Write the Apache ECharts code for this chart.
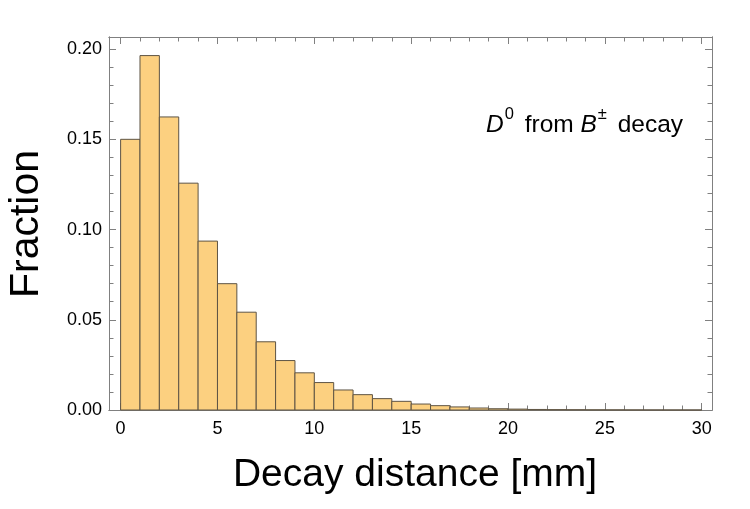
<!DOCTYPE html>
<html>
<head>
<meta charset="utf-8">
<script src="https://cdn.jsdelivr.net/npm/echarts@6/dist/echarts.min.js"></script>
<style>html,body{margin:0;padding:0;background:#fff}#c{width:750px;height:509px}</style>
</head>
<body>
<div id="c"></div>
<script>
// Histogram bins (mm) and fractions
var binStarts = [0,1,2,3,4,5,6,7,8,9,10,11,12,13,14,15,16,17,18,19,20,21,22,23,24,25,26,27,28,29];
var binWidth = 1;
var fractions = [0.1500,0.1964,0.1624,0.1257,0.0936,0.0700,0.0542,0.0378,0.0274,0.0206,
                 0.0152,0.0111,0.0085,0.0063,0.0048,0.0033,0.0024,0.0017,0.0011,0.0007,
                 0.0005,0.0003,0.0002,0.00015,0.0001,0.00007,0.00005,0.00003,0.00002,0.00001];
var xMajorTicks = [0,5,10,15,20,25,30];
var xMinorTicks = [0,1,2,3,4,5,6,7,8,9,10,11,12,13,14,15,16,17,18,19,20,21,22,23,24,25,26,27,28,29,30];
var yMajorTicks = [0,0.05,0.10,0.15,0.20];
var yMinorTicks = [0,0.01,0.02,0.03,0.04,0.05,0.06,0.07,0.08,0.09,0.10,0.11,0.12,0.13,0.14,0.15,0.16,0.17,0.18,0.19,0.20];
var xTitle = 'Decay distance [mm]';
var yTitle = 'Fraction';

var FONT = '"Liberation Sans", Arial, Helvetica, sans-serif';
var FRAME = '#808080';
var X_MIN = -0.6, X_MAX = 30.53, Y_MIN = 0, Y_MAX = 0.2067;

var data = binStarts.map(function (s, i) { return [s, s + binWidth, fractions[i]]; });

function xAx(pos, ticks, len, labels) {
  return {
    type: 'value', position: pos, min: X_MIN, max: X_MAX,
    splitLine: { show: false },
    axisLine: { show: true, onZero: false, lineStyle: { color: FRAME, width: 1 } },
    axisTick: { show: true, inside: true, length: len, customValues: ticks, lineStyle: { color: FRAME, width: 1 } },
    axisLabel: labels ? { show: true, customValues: xMajorTicks, margin: 10, color: '#000', fontSize: 18, fontFamily: FONT,
      formatter: function (v) { return String(v); } } : { show: false }
  };
}
function yAx(pos, ticks, len, labels) {
  return {
    type: 'value', position: pos, min: Y_MIN, max: Y_MAX,
    splitLine: { show: false },
    axisLine: { show: true, onZero: false, lineStyle: { color: FRAME, width: 1 } },
    axisTick: { show: true, inside: true, length: len, customValues: ticks, lineStyle: { color: FRAME, width: 1 } },
    axisLabel: labels ? { show: true, customValues: yMajorTicks, margin: 7, color: '#000', fontSize: 18, fontFamily: FONT,
      formatter: function (v) { return v.toFixed(2); } } : { show: false }
  };
}

var chart = echarts.init(document.getElementById('c'), null, { renderer: 'canvas' });
chart.setOption({
  animation: false,
  backgroundColor: '#fff',
  grid: { left: 109, right: 38, top: 37, bottom: 99, containLabel: false },
  xAxis: [
    xAx('bottom', xMajorTicks, 7, true),
    xAx('bottom', xMinorTicks, 4.5, false),
    xAx('top', xMajorTicks, 7, false),
    xAx('top', xMinorTicks, 4.5, false)
  ],
  yAxis: [
    yAx('left', yMajorTicks, 7, true),
    yAx('left', yMinorTicks, 4.5, false),
    yAx('right', yMajorTicks, 7, false),
    yAx('right', yMinorTicks, 4.5, false)
  ],
  series: [{
    type: 'custom',
    xAxisIndex: 0, yAxisIndex: 0,
    data: data,
    encode: { x: [0, 1], y: 2 },
    renderItem: function (params, api) {
      var p0 = api.coord([api.value(0), api.value(2)]);
      var p1 = api.coord([api.value(1), 0]);
      return {
        type: 'rect',
        shape: { x: p0[0], y: p0[1], width: p1[0] - p0[0], height: p1[1] - p0[1] },
        style: { fill: '#FCD080', stroke: '#5e5444', lineWidth: 1 }
      };
    }
  }],
  graphic: [
    {
      type: 'text', x: 486, y: 122,
      style: {
        text: '{i|D}{s|0}{n| from }{i|B}{s|±}{n| decay}',
        textVerticalAlign: 'middle',
        rich: {
          i: { fontSize: 24.5, fontStyle: 'italic', fontFamily: FONT, fill: '#000', lineHeight: 32, verticalAlign: 'bottom' },
          n: { fontSize: 24.5, fontFamily: FONT, fill: '#000', lineHeight: 32, verticalAlign: 'bottom' },
          s: { fontSize: 16.5, fontFamily: FONT, fill: '#000', lineHeight: 32, verticalAlign: 'top', padding: [0, 4, 0, 1] }
        }
      }
    },
    {
      type: 'text', x: 27, y: 224, rotation: Math.PI / 2,
      style: { text: yTitle, fontSize: 41, fontFamily: FONT, fill: '#000', textAlign: 'center', textVerticalAlign: 'middle' }
    },
    {
      type: 'text', x: 415, y: 475,
      style: { text: xTitle, fontSize: 39, fontFamily: FONT, fill: '#000', textAlign: 'center', textVerticalAlign: 'middle' }
    }
  ]
});
</script>
</body>
</html>
